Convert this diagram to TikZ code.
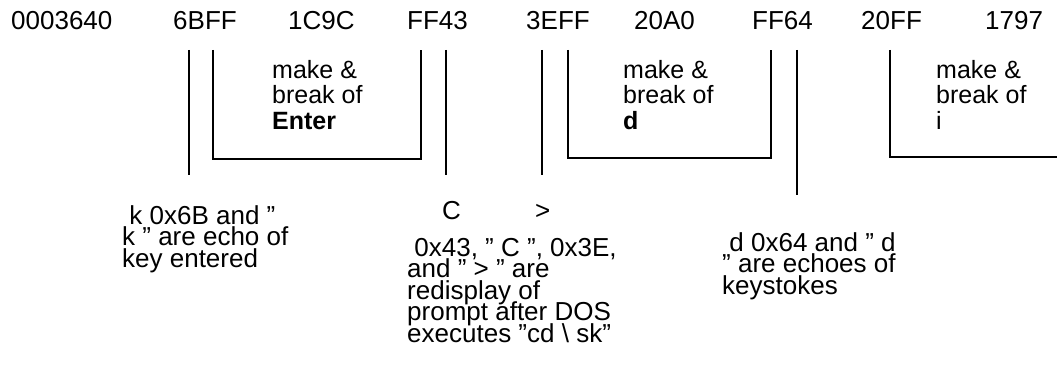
\documentclass[tikz,border=0pt]{standalone}
\usepackage{fontspec}
\setmainfont{Liberation Sans}
\newcommand\tightstack[1]{\vtop{\lineskiplimit=-1000pt\lineskip=0pt #1}}
\begin{document}
\begin{tikzpicture}[x=1pt,y=-1pt,
  lab/.style={anchor=base west,inner sep=0pt,font=\fontsize{26}{26}\selectfont},
  body/.style={anchor=base west,inner sep=0pt,font=\fontsize{25}{25.5}\selectfont},
  note/.style={anchor=base west,inner sep=0pt,font=\fontsize{26}{21.6}\selectfont},
  rule/.style={line width=2.2pt}]
\useasboundingbox (0,0) rectangle (1057,369);

% top row of words
\node[lab] (w0) at (11,30) {0003640};
\node[lab] (w1) at (173,30) {6BFF};
\node[lab] (w2) at (288,30) {1C9C};
\node[lab] (w3) at (407,30) {FF43};
\node[lab] (w4) at (526,30) {3EFF};
\node[lab] (w5) at (634,30) {20A0};
\node[lab] (w6) at (752,30) {FF64};
\node[lab] (w7) at (861,30) {20FF};
\node[lab] (w8) at (985,30) {1797};

% single bars
\draw[rule] (189,50) -- (189,175);
\draw[rule] (446,50) -- (446,175);
\draw[rule] (542,50) -- (542,175);
\draw[rule] (797,50) -- (797,195);

% brackets
\draw[rule] (213,50) -- (213,159) -- (421,159) -- (421,50);
\draw[rule] (568,50) -- (568,158) -- (771,158) -- (771,50);
\draw[rule] (890,50) -- (890,157) -- (1057,157);

% bracket texts
\node[body] (b1) at (272,78) {\tightstack{\hbox{make \&}\hbox{break of}\hbox{\bfseries Enter}}};
\node[body] (b2) at (623,78) {\tightstack{\hbox{make \&}\hbox{break of}\hbox{\bfseries d}}};
\node[body] (b3) at (936,78) {\tightstack{\hbox{make \&}\hbox{break of}\hbox{i}}};

% notes
\node[note] (n1) at (122,224) {\tightstack{\hbox{\ k 0x6B and ”}\hbox{k ” are echo of}\hbox{key entered}}};
\node[note] (cc) at (442,219) {C};
\node[note] (gt) at (535,219) {>};
\node[note] (n2) at (407,256) {\tightstack{\hbox{\ 0x43, ” C ”, 0x3E,}\hbox{and ” > ” are}\hbox{redisplay of}\hbox{prompt after DOS}\hbox{executes ”cd \textbackslash\ sk”}}};
\node[note] (n3) at (722,251) {\tightstack{\hbox{\ d 0x64 and ” d}\hbox{” are echoes of}\hbox{keystokes}}};
\end{tikzpicture}
\end{document}
